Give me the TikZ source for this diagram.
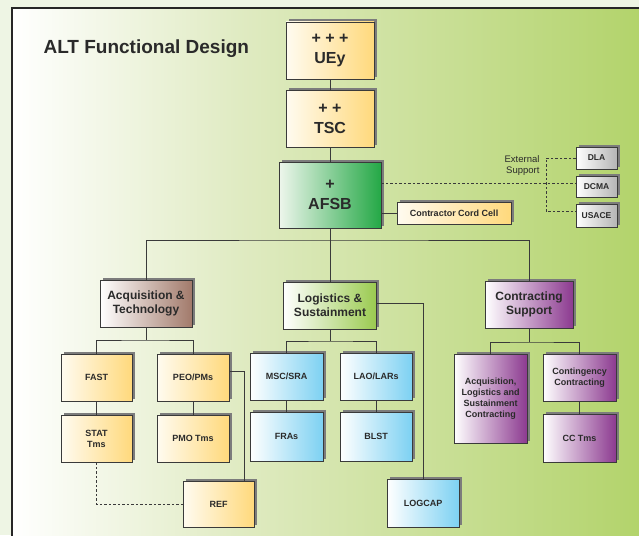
\documentclass[tikz,border=0pt]{standalone}
\usepackage{fontspec}
\setmainfont{Liberation Sans}
\usetikzlibrary{shadows}
\definecolor{outerbg}{HTML}{EEF5E4}
\definecolor{bgmid}{HTML}{E0EBC3}
\definecolor{bgright}{HTML}{B2D36A}
\definecolor{boxline}{HTML}{3A3A3A}
\definecolor{shadowgray}{HTML}{7C7C7C}
\definecolor{txt}{HTML}{2A2A2A}
\definecolor{yelL}{HTML}{FFFBF0}
\definecolor{yelR}{HTML}{FFD97C}
\definecolor{grnL}{HTML}{EEF6EC}
\definecolor{grnR}{HTML}{24A846}
\definecolor{brnL}{HTML}{FFFFFF}
\definecolor{brnR}{HTML}{A27A6B}
\definecolor{lgrL}{HTML}{FFFFFF}
\definecolor{lgrR}{HTML}{9ACA4F}
\definecolor{purL}{HTML}{FFFFFF}
\definecolor{purR}{HTML}{8C3A90}
\definecolor{bluL}{HTML}{FFFFFF}
\definecolor{bluR}{HTML}{7DD1F2}
\definecolor{gryL}{HTML}{FFFFFF}
\definecolor{gryR}{HTML}{B5B5B5}
\tikzset{
  box/.style={draw=boxline, line width=0.7pt, align=center, inner sep=1pt, text=txt,
    drop shadow={shadow xshift=2.5pt, shadow yshift=2.5pt, fill=shadowgray, opacity=1}},
  yel/.style={left color=yelL, right color=yelR},
  grn/.style={left color=grnL, right color=grnR},
  brn/.style={left color=brnL, right color=brnR},
  lgr/.style={left color=lgrL, right color=lgrR},
  pur/.style={left color=purL, right color=purR},
  blu/.style={left color=bluL, right color=bluR},
  gry/.style={left color=gryL, right color=gryR},
  bigfont/.style={font=\bfseries\fontsize{16}{20}\selectfont},
  midfont/.style={font=\bfseries\fontsize{12}{14}\selectfont},
  smallfont/.style={font=\bfseries\fontsize{9}{11}\selectfont},
  conn/.style={draw=boxline, line width=0.8pt},
  dconn/.style={draw=boxline, line width=0.8pt, dashed, dash pattern=on 2.5pt off 2pt}
}
\begin{document}
\begin{tikzpicture}[x=1pt,y=-1pt]
\useasboundingbox (0,0) rectangle (639,535);
\fill[outerbg] (0,0) rectangle (639,535);
\shade[left color=white, right color=bgmid] (12,8) rectangle (236,540);
\shade[left color=bgmid, right color=bgright] (235,8) rectangle (645,540);
\draw[color=black!85, line width=1.6pt] (645,8) -- (12,8) -- (12,540);

\node[anchor=base west, font=\bfseries\fontsize{19}{22}\selectfont, text=txt] (title) at (40,53) {ALT Functional Design};

% top column
\node[box, yel, bigfont, minimum width=88pt, minimum height=57pt] (uey) at (330,50.5) {+ + +\\UEy};
\node[box, yel, bigfont, minimum width=88pt, minimum height=57pt] (tsc) at (330,118.5) {+ +\\TSC};
\node[box, grn, bigfont, minimum width=102pt, minimum height=66pt] (afsb) at (330,195) {+\\AFSB};
\node[box, yel, smallfont, minimum width=114pt, minimum height=22pt] (ccc) at (454,213) {Contractor Cord Cell};

\node[box, gry, font=\bfseries\fontsize{8.5}{10}\selectfont, minimum width=41pt, minimum height=22pt] (dla) at (596.5,158) {DLA};
\node[box, gry, font=\bfseries\fontsize{8.5}{10}\selectfont, minimum width=41pt, minimum height=21pt] (dcma) at (596.5,187) {DCMA};
\node[box, gry, font=\bfseries\fontsize{8.5}{10}\selectfont, minimum width=41pt, minimum height=23pt] (usace) at (596.5,215.5) {USACE};
\node[anchor=east, align=right, text=txt, font=\fontsize{9.5}{11}\selectfont] (ext) at (543,165.5) {External\\Support};

% second level
\node[box, brn, midfont, minimum width=92pt, minimum height=47pt] (at) at (146,303.5) {Acquisition \&\\Technology};
\node[box, lgr, midfont, minimum width=93pt, minimum height=47pt] (ls) at (330,305.5) {Logistics \&\\Sustainment};
\node[box, pur, midfont, minimum width=88pt, minimum height=47pt] (cs) at (529,304.5) {Contracting\\Support};

% A&T children
\node[box, yel, smallfont, minimum width=71pt, minimum height=47pt] (fast) at (96.5,377.5) {FAST};
\node[box, yel, smallfont, minimum width=72pt, minimum height=47pt] (peo) at (193,377.5) {PEO/PMs};
\node[box, yel, smallfont, minimum width=71pt, minimum height=47pt] (stat) at (96.5,438.5) {STAT\\Tms};
\node[box, yel, smallfont, minimum width=72pt, minimum height=47pt] (pmo) at (193,438.5) {PMO Tms};
\node[box, yel, smallfont, minimum width=71pt, minimum height=46pt] (ref) at (218.5,504) {REF};

% L&S children
\node[box, blu, smallfont, minimum width=73pt, minimum height=47pt] (msc) at (286.5,376.5) {MSC/SRA};
\node[box, blu, smallfont, minimum width=72pt, minimum height=47pt] (lao) at (376,376.5) {LAO/LARs};
\node[box, blu, smallfont, minimum width=73pt, minimum height=49pt] (fras) at (286.5,436.5) {FRAs};
\node[box, blu, smallfont, minimum width=72pt, minimum height=49pt] (blst) at (376,436.5) {BLST};
\node[box, blu, smallfont, minimum width=72pt, minimum height=48pt] (logcap) at (423,503) {LOGCAP};

% CS children
\node[box, pur, smallfont, minimum width=73pt, minimum height=89pt] (als) at (490.5,398.5) {Acquisition,\\Logistics and\\Sustainment\\Contracting};
\node[box, pur, smallfont, minimum width=73pt, minimum height=47pt] (ccon) at (579.5,377.5) {Contingency\\Contracting};
\node[box, pur, smallfont, minimum width=73pt, minimum height=48pt] (cctms) at (579.5,438) {CC Tms};

% connectors
\coordinate (bus) at (330,240);
\coordinate (atbus) at (146,340);
\coordinate (lsbus) at (330,341);
\coordinate (csbus) at (529,342);
\coordinate (extx) at (546,0);
\begin{scope}[on background layer/.style={}]
\end{scope}
\path[conn] (uey.south) -- (tsc.north);
\path[conn] (tsc.south) -- (afsb.north);
\path[conn] (afsb.south) -- (ls.north);
\path[conn] (at.north) |- (bus) -| (cs.north);
\path[conn] (afsb.east |- ccc.west) -- (ccc.west);
\path[dconn] ([yshift=4pt]dcma.west -| afsb.east) -- ([yshift=4pt]dcma.west);
\path[dconn] (dla.west) -- (dla.west -| extx) -- ([yshift=4pt]usace.west -| extx) -- ([yshift=4pt]usace.west);

\path[conn] (at.south) -- (atbus);
\path[conn] (fast.north) |- (atbus) -| (peo.north);
\path[conn] (fast.south) -- (stat.north);
\path[conn] (peo.south) -- (pmo.north);
\path[conn] ([yshift=6pt]peo.east) -| ([xshift=-10pt]ref.north east);
\path[dconn] (stat.south) |- (ref.west);

\path[conn] (ls.south) -- (lsbus);
\path[conn] (msc.north) |- (lsbus) -| (lao.north);
\path[conn] (msc.south) -- (fras.north);
\path[conn] (lao.south) -- (blst.north);
\path[conn] ([yshift=2pt]ls.east) -| (logcap.north);

\path[conn] (cs.south) -- (csbus);
\path[conn] (als.north) |- (csbus) -| (ccon.north);
\path[conn] (ccon.south) -- (cctms.north);
\end{tikzpicture}
\end{document}
